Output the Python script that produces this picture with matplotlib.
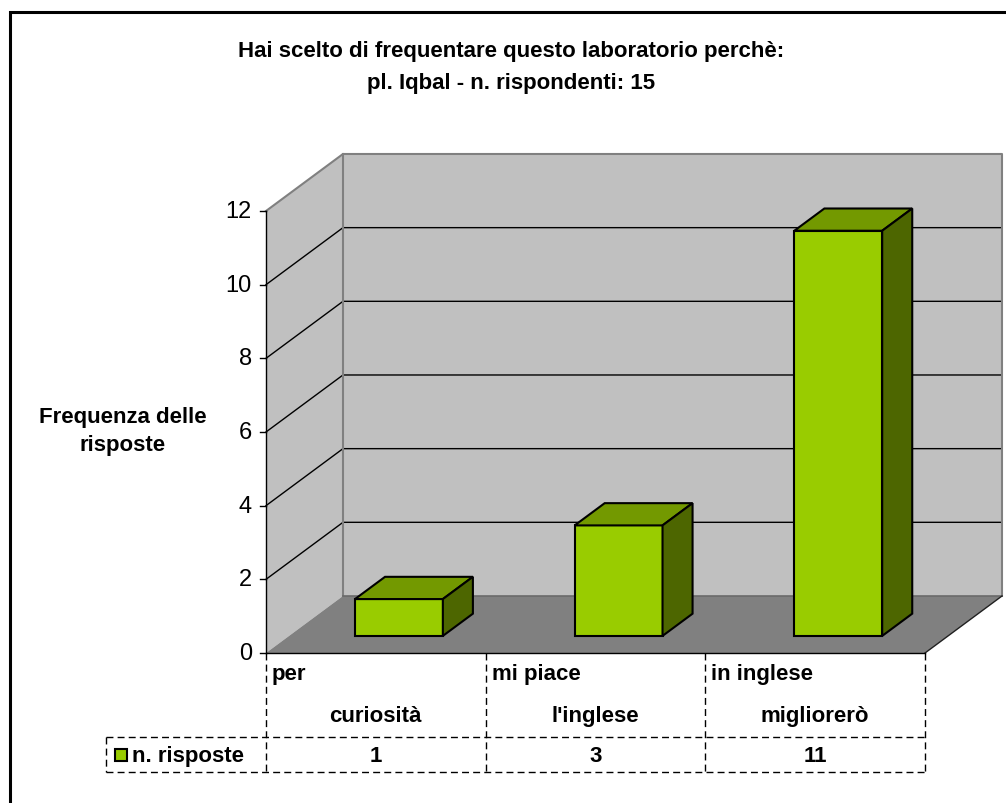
#!/usr/bin/env python3
import matplotlib
matplotlib.use("Agg")
import matplotlib.pyplot as plt
from matplotlib.patches import Polygon, Rectangle

plt.rcParams['font.family'] = ['Liberation Sans', 'DejaVu Sans']

# data
title_lines = ["Hai scelto di frequentare questo laboratorio perchè:",
               "pl. Iqbal - n. rispondenti: 15"]
ylabel_lines = ["Frequenza delle", "risposte"]
cat_top = ["per", "mi piace", "in inglese"]
cat_bottom = ["curiosità", "l'inglese", "migliorerò"]
values = [1, 3, 11]
series_name = "n. risposte"
yticks = [0, 2, 4, 6, 8, 10, 12]

# colours
c_front = '#99CC00'
c_top = '#739900'
c_side = '#4D6600'
c_wall = '#C0C0C0'
c_floor = '#808080'
c_edge = '#808080'

# 3d look: depth offset in data units
DX = 0.3505
DY = 1.548
D0, D1 = 0.30, 0.69      # bar depth range
HW = 0.20                # half bar width

W, H = 1006, 804
PX_X = 219.67            # pixels per category
PX_Y = 36.833            # pixels per value unit
X0, Y0 = 266, 654        # pixel of origin


def X(px):
    return (px - X0) / PX_X


def Y(py):
    return (Y0 - py) / PX_Y


def P(x, v, d):
    return (x + DX * d, v + DY * d)


# ============================================================================
def plot_chart():
    fig = plt.figure(figsize=(W / 100, H / 100), dpi=100)
    ax = fig.add_axes([0, 0, 1, 1])
    ax.set_xlim(X(0), X(W))
    ax.set_ylim(Y(H), Y(0))
    ax.axis('off')

    n = len(values)
    top = yticks[-1]

    # walls
    side = Polygon([P(0, 0, 0), P(0, top, 0), P(0, top, 1), P(0, 0, 1)],
                   closed=True, fc=c_wall, ec='none', zorder=1)
    back = Polygon([P(0, 0, 1), P(0, top, 1), P(n, top, 1), P(n, 0, 1)],
                   closed=True, fc=c_wall, ec='none', zorder=1)
    ax.add_patch(side)
    ax.add_patch(back)

    # gridlines
    for v in yticks[1:-1]:
        xs, ys = zip(P(0, v, 0), P(0, v, 1), P(n, v, 1))
        ax.plot(xs, ys, color='black', lw=1, zorder=2)

    # wall edges
    xs, ys = zip(P(0, top, 0), P(0, top, 1), P(n, top, 1), P(n, 0, 1))
    ax.plot(xs, ys, color=c_edge, lw=1.5, zorder=2)
    xs, ys = zip(P(0, 0, 1), P(0, top, 1))
    ax.plot(xs, ys, color=c_edge, lw=1.5, zorder=2)

    # floor
    floor = Polygon([P(0, 0, 0), P(n, 0, 0), P(n, 0, 1), P(0, 0, 1)],
                    closed=True, fc=c_floor, ec='none', zorder=3)
    ax.add_patch(floor)
    xs, ys = zip(P(0, 0, 1), P(n, 0, 1))
    ax.plot(xs, ys, color='#6a6a6a', lw=1.2, zorder=3)
    xs, ys = zip(P(n, 0, 0), P(n, 0, 1))
    ax.plot(xs, ys, color='#202020', lw=1, zorder=3)
    ax.plot([0, n], [0, 0], color='black', lw=1, zorder=4)

    # y axis
    ax.plot([0, 0], [0, top], color='black', lw=1, zorder=4)
    for v in yticks:
        ax.plot([X(X0 - 6), 0], [v, v], color='black', lw=1, zorder=4)
        ax.text(X(X0 - 14), v, str(v), ha='right', va='center',
                fontsize=17, zorder=4)

    # bars
    for i, v in enumerate(values):
        c = i + 0.5
        l, r = c - HW, c + HW
        kw = dict(closed=True, ec='black', lw=1.5, joinstyle='miter', zorder=5)
        ax.add_patch(Polygon([P(l, 0, D0), P(r, 0, D0), P(r, v, D0), P(l, v, D0)],
                             fc=c_front, **kw))
        ax.add_patch(Polygon([P(l, v, D0), P(r, v, D0), P(r, v, D1), P(l, v, D1)],
                             fc=c_top, **kw))
        ax.add_patch(Polygon([P(r, 0, D0), P(r, v, D0), P(r, v, D1), P(r, 0, D1)],
                             fc=c_side, **kw))

    # data table
    dash = dict(color='black', lw=1, linestyle=(0, (5, 3)), zorder=4)
    y_row = Y(738)
    y_bot = Y(773)
    x_left = X(106)
    for i in range(n + 1):
        ax.plot([i, i], [0, y_bot], **dash)
    ax.plot([x_left, n], [y_row, y_row], **dash)
    ax.plot([x_left, n], [y_bot, y_bot], **dash)
    ax.plot([x_left, x_left], [y_row, y_bot], **dash)

    tk = dict(fontsize=16, fontweight='bold', zorder=4)
    for i in range(n):
        ax.text(i + X(X0 + 6), Y(675), cat_top[i], ha='left', va='center', **tk)
        ax.text(i + 0.5, Y(717), cat_bottom[i], ha='center', va='center', **tk)
        ax.text(i + 0.5, Y(757), str(values[i]), ha='center', va='center', **tk)

    ax.plot([X(121)], [Y(756)], marker='s', ms=9, mfc=c_front, mec='black',
            mew=1.5, zorder=4)
    ax.text(X(132), Y(757), series_name, ha='left', va='center', **tk)

    # axis title
    ax.text(X(123), Y(418), ylabel_lines[0], ha='center', va='center', **tk)
    ax.text(X(123), Y(446), ylabel_lines[1], ha='center', va='center', **tk)

    # chart title
    ax.text(X(511), Y(51), title_lines[0], ha='center', va='center', **tk)
    ax.text(X(511), Y(83), title_lines[1], ha='center', va='center', **tk)

    # outer border
    fig.patches.append(Rectangle((9.5 / W, -0.05), 1.1, 1 - 12.5 / H + 0.05,
                                 transform=fig.transFigure, fill=False,
                                 ec='black', lw=2.2, zorder=10))

    fig.savefig('out.png', dpi=100)


if __name__ == "__main__":
    plot_chart()
